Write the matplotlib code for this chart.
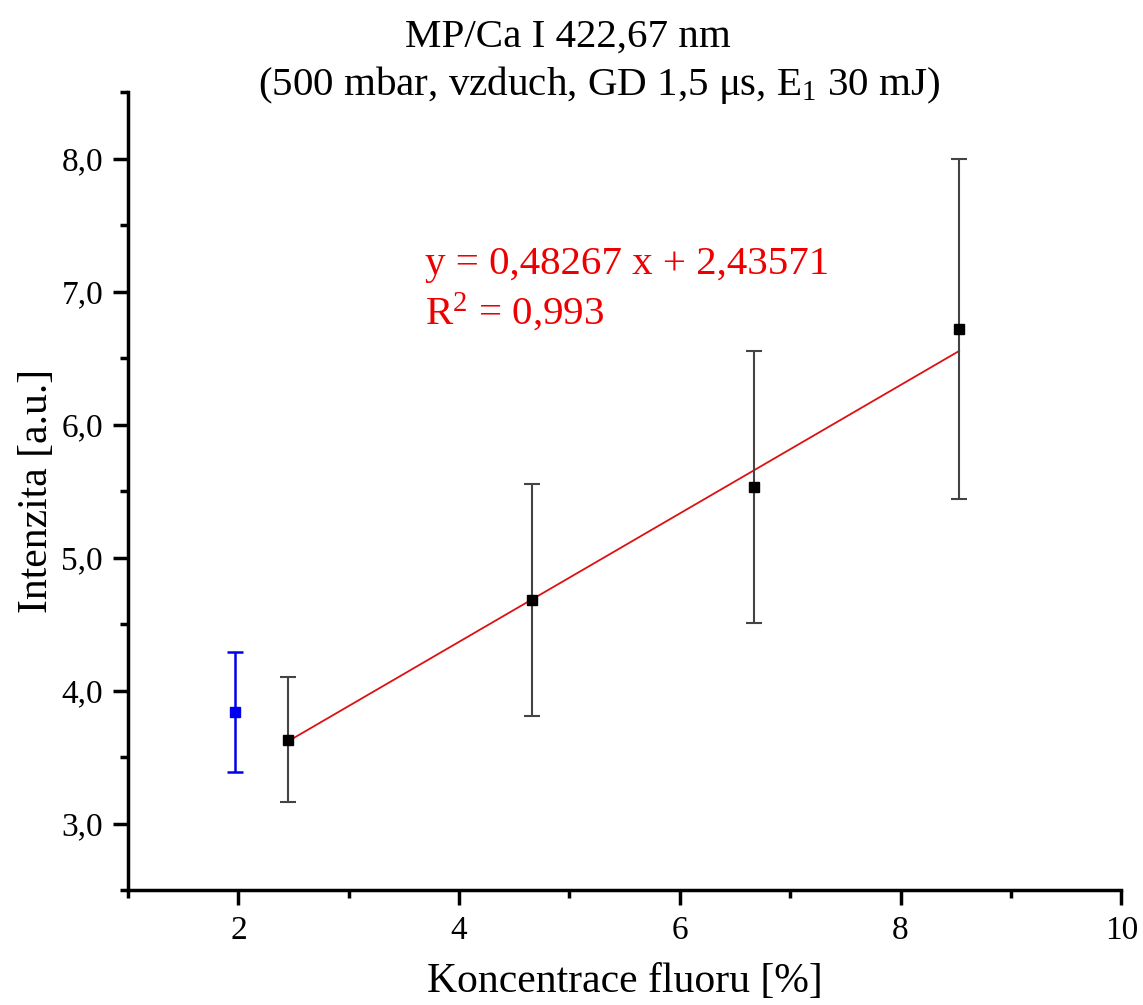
import numpy as np
import matplotlib.pyplot as plt
from matplotlib.ticker import MultipleLocator, FuncFormatter

plt.rcParams['font.family'] = ['Liberation Serif', 'DejaVu Serif']
plt.rcParams['mathtext.fontset'] = 'custom'
plt.rcParams['mathtext.rm'] = 'Liberation Serif'
plt.rcParams['mathtext.it'] = 'Liberation Serif:italic'

# kalibracni body (koncentrace F [%], intenzita, smerodatna odchylka)
konc = [2.45, 4.66, 6.67, 8.53]
intenzita = [3.63, 4.68, 5.53, 6.72]
chyba = [0.47, 0.875, 1.02, 1.28]

# vzorek mimo kalibraci
konc_vz = [1.97]
intenzita_vz = [3.84]
chyba_vz = [0.45]

# linearni fit
smernice = 0.48267
usek = 2.43571
r2 = 0.993

fig = plt.figure(figsize=(11.43, 10.05), dpi=100)
ax = fig.add_axes([0.112, 0.1144, 0.869, 0.794])

ax.errorbar(konc, intenzita, yerr=chyba, fmt='s', color='black', ms=6.5,
            ecolor='#444444', elinewidth=1.5, capsize=6, capthick=1.5, zorder=3)
ax.errorbar(konc_vz, intenzita_vz, yerr=chyba_vz, fmt='s', color='#0000ee', ms=6.5,
            ecolor='#0000ee', elinewidth=1.8, capsize=6, capthick=1.8, zorder=3)

xf = np.array([konc[0], konc[-1]])
ax.plot(xf, smernice * xf + usek, color='#dd1111', lw=1.3, zorder=2)

def carka(v):
    return f"{v:.5f}".replace('.', ',')

ax.text(3.69, 7.13, f"y = {carka(smernice)} x + {carka(usek)}", color='#ee0000', fontsize=29.5)
ax.text(3.69, 6.76, "R$^2$ = " + f"{r2:.3f}".replace('.', ','), color='#ee0000', fontsize=29.5)

ax.set_xlim(1, 10)
ax.set_ylim(2.5, 8.5)
ax.xaxis.set_major_locator(MultipleLocator(2))
ax.xaxis.set_minor_locator(MultipleLocator(1))
ax.yaxis.set_major_locator(MultipleLocator(1))
ax.yaxis.set_minor_locator(MultipleLocator(0.5))
ax.yaxis.set_major_formatter(FuncFormatter(lambda v, p: f"{v:.1f}".replace('.', ',')))
ax.xaxis.set_major_formatter(FuncFormatter(lambda v, p: f"{v:.0f}"))

for s in ['top', 'right']:
    ax.spines[s].set_visible(False)
for s in ['left', 'bottom']:
    ax.spines[s].set_linewidth(2.5)

ax.tick_params(which='major', direction='out', length=11, width=2.5, labelsize=24, pad=7)
ax.tick_params(which='minor', direction='out', length=6, width=2.5)

ax.set_xlabel("Koncentrace fluoru [%]", fontsize=30, labelpad=12)
ax.set_ylabel("Intenzita [a.u.]", fontsize=30, labelpad=4)

# dvouradkovy nadpis
fig.text(568 / 1143, 1 - 37 / 1005, "MP/Ca I 422,67 nm",
         fontsize=29.5, ha='center', va='center')
fig.text(599 / 1143, 1 - 85 / 1005, "(500 mbar, vzduch, GD 1,5 μs, E$_1$ 30 mJ)",
         fontsize=29.5, ha='center', va='center')

fig.savefig("out.png", dpi=100)
